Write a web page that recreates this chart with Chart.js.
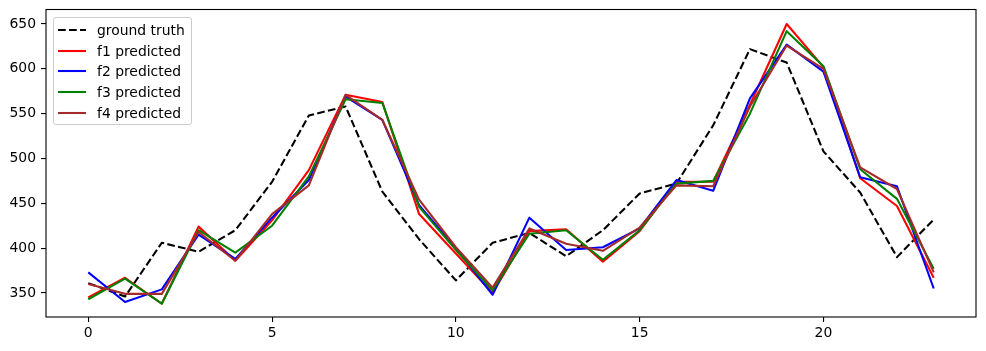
<!DOCTYPE html>
<html>
<head>
<meta charset="utf-8">
<script src="https://cdn.jsdelivr.net/npm/chart.js@4/dist/chart.umd.min.js"></script>
<style>
  html, body { margin: 0; padding: 0; background: #fff; }
  #wrap { position: relative; width: 986px; height: 351px; }
  #legend { position: absolute; left: 53px; top: 17px; width: 139px; height: 108px; box-sizing: border-box;
            border: 1px solid #cccccc; border-radius: 3px; background: rgba(255,255,255,0.8);
            font-family: "DejaVu Sans", sans-serif; font-size: 13.9px; color: #000; }
  .row { position: absolute; left: 0; height: 20px; display: flex; align-items: center; white-space: nowrap; }
  .row svg { margin-left: 4px; margin-right: 11px; }
</style>
</head>
<body>
<div id="wrap">
  <canvas id="c" width="986" height="351"></canvas>
  <div id="legend"></div>
</div>
<script>
const categories = [0,1,2,3,4,5,6,7,8,9,10,11,12,13,14,15,16,17,18,19,20,21,22,23];
const groundTruth = [361,346,406,396,420,474,548,558,463,410,364,406,417,391,420,461,472,537,622,607,508,462,390,432];
const f1Predicted = [345,367,338,424,386,431,487,571,563,438,394,350,419,421,385,419,474,474,560,650,602,478,447,367];
const f2Predicted = [373,340,354,415,388,434,476,569,543,448,400,348,434,398,401,422,476,464,567,627,597,479,469,355];
const f3Predicted = [343,366,338,420,395,425,480,566,562,446,398,353,416,420,387,420,472,475,550,642,603,488,455,377];
const f4Predicted = [360,349,349,418,386,438,470,571,543,454,401,356,422,405,397,423,470,469,558,626,600,490,466,373];
const seriesNames = ["ground truth","f1 predicted","f2 predicted","f3 predicted","f4 predicted"];
const xTicks = [0,5,10,15,20];
const yTicks = [350,400,450,500,550,600,650];

const colors = ["#000000","#ff0000","#0000ff","#008000","#a52a2a"];
const seriesValues = [groundTruth, f1Predicted, f2Predicted, f3Predicted, f4Predicted];
const dashes = [[7.7,3.3],[],[],[],[]];

const datasets = seriesValues.map((vals, k) => ({
  label: seriesNames[k],
  data: categories.map((c, i) => ({x: c, y: vals[i]})),
  borderColor: colors[k],
  backgroundColor: colors[k],
  borderWidth: 2.08,
  borderDash: dashes[k],
  borderCapStyle: 'butt',
  borderJoinStyle: 'round',
  pointRadius: 0,
  tension: 0,
  fill: false,
  order: 4 - k
}));

const frame = {
  id: 'frame',
  afterDatasetsDraw(chart) {
    const a = chart.chartArea, ctx = chart.ctx;
    ctx.save();
    ctx.strokeStyle = '#000';
    ctx.lineWidth = 1.1;
    ctx.strokeRect(a.left, a.top, a.right - a.left, a.bottom - a.top);
    ctx.restore();
  }
};

const tickFont = { family: 'DejaVu Sans', size: 13.9 };

new Chart(document.getElementById('c'), {
  type: 'line',
  data: { datasets },
  options: {
    responsive: false,
    animation: false,
    devicePixelRatio: 1,
    layout: { padding: { left: 0, right: 10, top: 9.5, bottom: 0 } },
    plugins: { legend: { display: false }, tooltip: { enabled: false } },
    scales: {
      x: {
        type: 'linear',
        min: -1.15, max: 24.15,
        afterBuildTicks: s => { s.ticks = xTicks.map(v => ({value: v})); },
        afterFit: s => { s.height = 34; s.paddingLeft = 0; s.paddingRight = 0; },
        border: { display: false },
        grid: { display: true, drawOnChartArea: false, drawTicks: true, tickLength: 5, color: '#000', lineWidth: 1.1 },
        ticks: { color: '#000', font: tickFont, padding: 3, maxRotation: 0, autoSkip: false, callback: v => String(v) }
      },
      y: {
        type: 'linear',
        min: 323.2, max: 666.2,
        afterBuildTicks: s => { s.ticks = yTicks.map(v => ({value: v})); },
        afterFit: s => { s.width = 46; s.paddingTop = 0; s.paddingBottom = 0; },
        border: { display: false },
        grid: { display: true, drawOnChartArea: false, drawTicks: true, tickLength: 5, color: '#000', lineWidth: 1.1 },
        ticks: { color: '#000', font: tickFont, padding: 5, autoSkip: false, callback: v => String(v) }
      }
    }
  },
  plugins: [frame]
});

// HTML legend built from the series
const legend = document.getElementById('legend');
seriesNames.forEach((name, k) => {
  const row = document.createElement('div');
  row.className = 'row';
  row.style.top = (2 + k * 20.7) + 'px';
  const dash = dashes[k].length ? `stroke-dasharray="${dashes[k].join(' ')}"` : '';
  row.innerHTML = `<svg width="28" height="6"><line x1="0" y1="3" x2="28" y2="3" stroke="${colors[k]}" stroke-width="2.08" ${dash}/></svg><span>${name}</span>`;
  legend.appendChild(row);
});
</script>
</body>
</html>
